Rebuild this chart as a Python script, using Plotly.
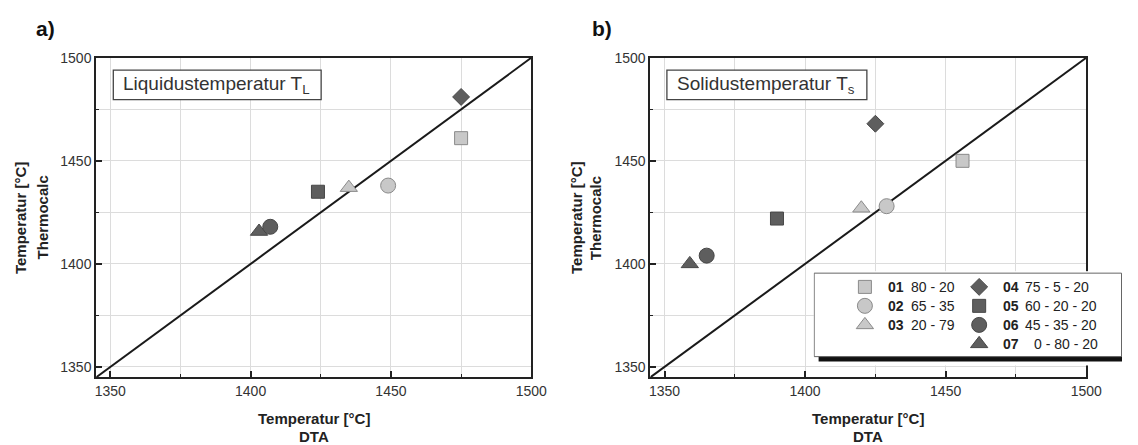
import plotly.graph_objects as go

# Alloy series: code, composition, marker style
codes = ["01", "02", "03", "04", "05", "06", "07"]
compositions = ["80 - 20", "65 - 35", "20 - 79", "75 - 5 - 20",
                "60 - 20 - 20", "45 - 35 - 20", "0 - 80 - 20"]
symbols = ["square", "circle", "triangle-up", "diamond", "square", "circle", "triangle-up"]
fill_colors = ["#c8c8c8", "#c8c8c8", "#c8c8c8", "#5e5e5e", "#5e5e5e", "#5e5e5e", "#5e5e5e"]
edge_colors = ["#8a8a8a", "#8a8a8a", "#8a8a8a", "#474747", "#474747", "#474747", "#474747"]
marker_sizes = [13, 15, 15, 13, 13, 15, 15]

# Liquidus temperature: DTA measurement vs. Thermocalc calculation (°C)
liquidus_dta = [1475, 1449, 1435, 1475, 1424, 1407, 1403]
liquidus_tc = [1461, 1438, 1437, 1481, 1435, 1418, 1415.7]

# Solidus temperature: DTA measurement vs. Thermocalc calculation (°C)
solidus_dta = [1456, 1429, 1420, 1425, 1390, 1365, 1359]
solidus_tc = [1450, 1428, 1427, 1468, 1422, 1404, 1400]

axis_range = [1345, 1500]
tick_values = [1350, 1400, 1450, 1500]

W, H = 1138, 445
FONT = "Liberation Sans, Arial, Helvetica, sans-serif"


def px(x):
    return x / W


def py(y):
    return 1 - y / H


fig = go.Figure()

# draw order: 07 before 06 so the circle sits on top of the triangle
draw_order = [0, 1, 2, 3, 4, 6, 5]

panels = [("x", "y", liquidus_dta, liquidus_tc), ("x2", "y2", solidus_dta, solidus_tc)]
for xa, ya, xs, ys in panels:
    # y = x reference line across the full axis range
    fig.add_trace(go.Scatter(x=axis_range, y=axis_range, mode="lines",
                             line=dict(color="#1a1a1a", width=2),
                             xaxis=xa, yaxis=ya, showlegend=False, hoverinfo="skip"))
    for i in draw_order:
        fig.add_trace(go.Scatter(
            x=[xs[i]], y=[ys[i]], mode="markers", name=codes[i],
            marker=dict(symbol=symbols[i], size=marker_sizes[i], color=fill_colors[i],
                        line=dict(color=edge_colors[i], width=1)),
            xaxis=xa, yaxis=ya, showlegend=False))

# legend symbols, drawn in a small helper subplot laid out in pixel units
leg_x = [877, 877, 877, 993, 993, 993, 993]
leg_y = [284, 303.3, 322.7, 284, 303.3, 322.7, 342]
for i in range(len(codes)):
    fig.add_trace(go.Scatter(
        x=[leg_x[i]], y=[leg_y[i]], mode="markers",
        marker=dict(symbol=symbols[i], size=marker_sizes[i], color=fill_colors[i],
                    line=dict(color=edge_colors[i], width=1)),
        xaxis="x3", yaxis="y3", showlegend=False, hoverinfo="skip", cliponaxis=False))

grid_c = "#dcdcdc"
axis_common = dict(
    range=axis_range, tickmode="array", tickvals=tick_values,
    ticks="inside", ticklen=6, tickwidth=1.5, tickcolor="#222",
    showline=True, linewidth=2, linecolor="#222", mirror=True,
    showgrid=True, gridcolor=grid_c, gridwidth=1, zeroline=False,
    tickfont=dict(family=FONT, size=14, color="#333"),
    minor=dict(dtick=25, tick0=1350, ticks="inside", ticklen=3, tickwidth=1,
               tickcolor="#222", showgrid=True, gridcolor=grid_c, gridwidth=1),
)

y_dom = [py(376), py(50.7)]
fig.update_layout(
    width=W, height=H, autosize=False,
    margin=dict(l=0, r=0, t=0, b=0),
    paper_bgcolor="white", plot_bgcolor="white",
    font=dict(family=FONT, color="#222"),
    showlegend=False,
    xaxis=dict(domain=[px(96.7), px(538.3)], anchor="y", **axis_common),
    yaxis=dict(domain=y_dom, anchor="x", **axis_common),
    xaxis2=dict(domain=[px(659.3), px(1101.7)], anchor="y2", **axis_common),
    yaxis2=dict(domain=y_dom, anchor="x2", **axis_common),
    xaxis3=dict(domain=[px(825), 1.0], anchor="y3", range=[825, 1138], visible=False),
    yaxis3=dict(domain=[py(364), py(268)], anchor="x3", range=[364, 268], visible=False),
)

shapes = []
# title boxes
for x0, x1 in [(114, 325), (676, 879)]:
    shapes.append(dict(type="rect", xref="paper", yref="paper",
                       x0=px(x0), x1=px(x1), y0=py(93.3), y1=py(63.3),
                       line=dict(color="#444", width=1.3), fillcolor="white", layer="above"))
# legend frame and its drop shadow
shapes.append(dict(type="rect", xref="x3", yref="y3", x0=830, x1=1140, y0=354.5, y1=360,
                   line=dict(width=0), fillcolor="#111", layer="below"))
shapes.append(dict(type="rect", xref="x3", yref="y3", x0=825.5, x1=1137.5, y0=270, y1=355,
                   line=dict(color="#666", width=1), fillcolor="white", layer="below"))
fig.update_layout(shapes=shapes)

ann = []


def text(x, y, s, size=14, bold=False, xanchor="center", angle=0, color="#222"):
    ann.append(dict(xref="paper", yref="paper", x=px(x), y=py(y),
                    text=f"<b>{s}</b>" if bold else s, showarrow=False,
                    xanchor=xanchor, yanchor="middle", textangle=angle,
                    font=dict(family=FONT, size=size, color=color)))


# panel letters
text(45.5, 21, "a)", size=21, bold=True, color="#111")
text(610, 21, "b)", size=21, bold=True, color="#111")

# title labels inside the boxes
text(121.5, 78.5, "Liquidustemperatur T<sub>L</sub>", size=19, xanchor="left", color="#333")
text(684.5, 78.5, "Solidustemperatur T<sub>s</sub>", size=19, xanchor="left", color="#333")

# axis titles
for cx, y1x, y2x in [(317.5, 19.7, 42.4), (880.5, 584, 603.5)]:
    text(cx, 418, "Temperatur [°C]", size=15, bold=True)
    text(cx, 436.5, "DTA", size=15, bold=True)
    text(y1x, 213.5, "Temperatur [°C]", size=15, bold=True, angle=-90)
    text(y2x, 213.5, "Thermocalc", size=15, bold=True, angle=-90)

# legend entries
code_x = [898, 898, 898, 1015, 1015, 1015, 1015]
comp_x = [922, 922, 922, 1038, 1038, 1038, 1047]
for i in range(len(codes)):
    text(code_x[i], leg_y[i], codes[i], size=14, bold=True, xanchor="left")
    text(comp_x[i], leg_y[i], compositions[i], size=14, xanchor="left")

fig.update_layout(annotations=ann)

fig.write_html("out.html")
